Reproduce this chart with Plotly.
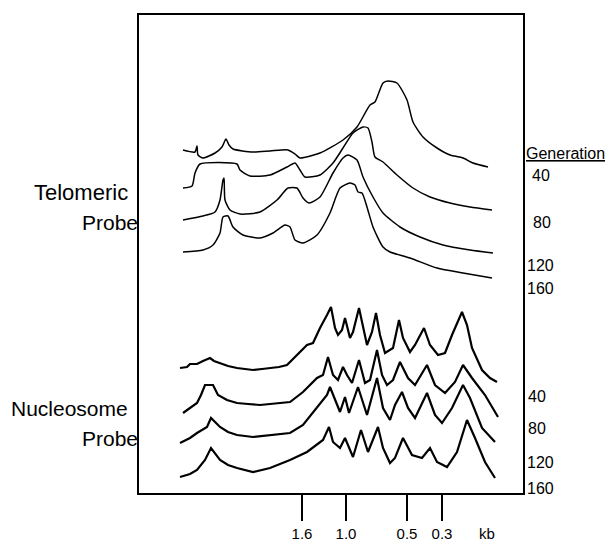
import plotly.graph_objects as go

# Densitometer scans: x = migration distance (arbitrary units), y = signal incl. stacking offset
tel_40_x = [44, 56, 58, 59, 64, 76, 83, 87, 90, 94, 114, 131, 149, 156, 161, 181, 204, 218, 231, 236, 244, 249, 258, 268, 274, 284, 298, 311, 324, 334, 349]
tel_40_y = [343, 341, 347, 338, 335, 340, 346, 354, 348, 344, 341, 342, 343, 339, 335, 340, 353, 366, 388, 391, 410, 412, 410, 393, 371, 356, 345, 338, 335, 330, 326]

tel_80_x = [44, 53, 56, 61, 98, 101, 111, 131, 148, 156, 161, 166, 181, 194, 204, 214, 224, 229, 233, 236, 244, 258, 274, 291, 311, 331, 353]
tel_80_y = [305, 307, 320, 329, 329, 323, 317, 318, 326, 330, 323, 316, 318, 330, 345, 360, 366, 365, 351, 336, 331, 318, 305, 296, 290, 286, 283]

tel_120_x = [44, 64, 76, 81, 84, 85, 86, 91, 101, 121, 138, 149, 158, 164, 170, 181, 194, 204, 209, 218, 224, 234, 244, 261, 281, 304, 331, 354]
tel_120_y = [273, 277, 281, 293, 313, 315, 293, 283, 279, 281, 293, 305, 305, 295, 290, 296, 320, 335, 338, 333, 316, 296, 280, 266, 256, 248, 243, 240]

tel_160_x = [44, 64, 74, 81, 84, 89, 94, 104, 121, 134, 146, 151, 156, 164, 178, 191, 201, 211, 216, 219, 223, 228, 234, 244, 251, 271, 298, 324, 353]
tel_160_y = [241, 243, 248, 260, 276, 277, 266, 258, 255, 260, 268, 266, 253, 250, 258, 280, 305, 310, 308, 301, 300, 286, 266, 246, 241, 235, 225, 220, 215]

nuc_40_x = [41, 48, 51, 58, 64, 71, 75, 81, 89, 98, 106, 114, 123, 131, 140, 148, 151, 158, 163, 168, 174, 181, 188, 192, 196, 199, 203, 206, 211, 214, 220, 224, 228, 233, 237, 241, 246, 254, 260, 264, 271, 276, 285, 291, 299, 306, 313, 323, 328, 333, 343, 351, 358]
nuc_40_y = [125, 126, 129, 129, 132, 135, 132, 130, 127, 125, 124, 123, 124, 125, 126, 128, 131, 138, 143, 148, 150, 165, 178, 186, 165, 158, 163, 175, 155, 161, 185, 165, 148, 161, 180, 158, 140, 145, 173, 155, 141, 148, 165, 148, 138, 140, 158, 181, 168, 145, 123, 115, 111]

nuc_80_x = [44, 51, 58, 62, 66, 74, 79, 88, 98, 109, 121, 131, 141, 151, 164, 178, 184, 189, 194, 199, 204, 208, 213, 220, 226, 231, 238, 243, 248, 254, 261, 269, 276, 288, 296, 306, 316, 324, 333, 346, 359]
nuc_80_y = [80, 85, 90, 98, 108, 108, 98, 93, 90, 89, 88, 89, 90, 91, 101, 115, 118, 136, 118, 113, 126, 118, 110, 133, 110, 113, 143, 118, 108, 113, 131, 115, 108, 128, 108, 100, 111, 128, 115, 98, 76]

nuc_120_x = [41, 51, 58, 68, 72, 81, 89, 98, 114, 131, 151, 164, 178, 188, 191, 198, 201, 206, 210, 219, 228, 238, 244, 251, 256, 263, 269, 276, 288, 296, 303, 313, 324, 331, 343, 356]
nuc_120_y = [50, 55, 60, 66, 75, 66, 61, 58, 56, 58, 60, 68, 85, 98, 106, 88, 81, 96, 80, 106, 78, 115, 85, 73, 88, 101, 85, 75, 100, 78, 70, 85, 108, 95, 65, 51]

nuc_160_x = [41, 51, 58, 66, 72, 81, 89, 98, 114, 131, 151, 168, 184, 190, 194, 201, 206, 214, 222, 229, 239, 244, 251, 256, 264, 273, 283, 291, 298, 308, 318, 328, 336, 346, 356]
nuc_160_y = [16, 19, 23, 33, 45, 33, 28, 25, 21, 25, 33, 41, 53, 66, 51, 45, 55, 36, 63, 41, 66, 45, 30, 35, 55, 38, 35, 45, 31, 26, 41, 73, 55, 31, 15]

# Size markers (kb) and their migration positions
kb_labels = ["1.6", "1.0", "0.5", "0.3"]
kb_pos = [163, 207, 268, 303]

# Generation labels for each stacked trace
generations = ["40", "80", "120", "160"]
tel_gen_y = [318, 271, 228, 205]
tel_gen_x = [392, 393, 387, 387]
nuc_gen_y = [97, 65, 31, 5]
nuc_gen_x = [388, 388, 387, 387]

X_SPAN = 384.0

fig = go.Figure()
for xs, ys in [(tel_40_x, tel_40_y), (tel_80_x, tel_80_y), (tel_120_x, tel_120_y), (tel_160_x, tel_160_y)]:
    fig.add_trace(go.Scatter(x=xs, y=ys, mode="lines",
                             line=dict(color="black", width=1.5, shape="spline", smoothing=0.6),
                             showlegend=False, hoverinfo="skip"))
for xs, ys in [(nuc_40_x, nuc_40_y), (nuc_80_x, nuc_80_y), (nuc_120_x, nuc_120_y), (nuc_160_x, nuc_160_y)]:
    fig.add_trace(go.Scatter(x=xs, y=ys, mode="lines", line=dict(color="black", width=2.2),
                             showlegend=False, hoverinfo="skip"))

FONT = "Liberation Sans, Arial, sans-serif"
ann = []
def side_label(xd, yd, text, anchor, size):
    ann.append(dict(x=xd / X_SPAN, y=yd, xref="paper", yref="y", text=text, showarrow=False,
                    xanchor=anchor, yanchor="middle", borderpad=0,
                    font=dict(size=size, family=FONT, color="black")))

side_label(-10, 301, "Telomeric", "right", 22)
side_label(0, 271, "Probe", "right", 21)
side_label(-10, 85, "Nucleosome", "right", 21)
side_label(0, 55, "Probe", "right", 21)
side_label(386, 340, "<u>Generation</u>", "left", 16)
for g, gx, gy in zip(generations, tel_gen_x, tel_gen_y):
    side_label(gx, gy, g, "left", 16)
for g, gx, gy in zip(generations, nuc_gen_x, nuc_gen_y):
    side_label(gx, gy, g, "left", 16)
ann.append(dict(x=348, y=0, xref="x", yref="paper", yshift=-40, text="kb", showarrow=False,
                xanchor="center", yanchor="middle", font=dict(size=15, family=FONT, color="black")))

fig.update_layout(
    template="none",
    width=605, height=533,
    margin=dict(l=131, r=90, t=7, b=48, autoexpand=False),
    plot_bgcolor="white", paper_bgcolor="white",
    annotations=ann,
    xaxis=dict(range=[0, X_SPAN], automargin=False, showgrid=False, zeroline=False, showline=True, mirror=True,
               linecolor="black", linewidth=2, tickmode="array", tickvals=kb_pos, ticktext=kb_labels,
               ticks="outside", ticklen=26, tickwidth=2, tickcolor="black",
               tickfont=dict(size=15, family=FONT, color="black")),
    yaxis=dict(range=[0, 478], automargin=False, showgrid=False, zeroline=False, showline=True, mirror=True,
               linecolor="black", linewidth=2, showticklabels=False, ticks=""),
)
fig.write_html("out.html")
